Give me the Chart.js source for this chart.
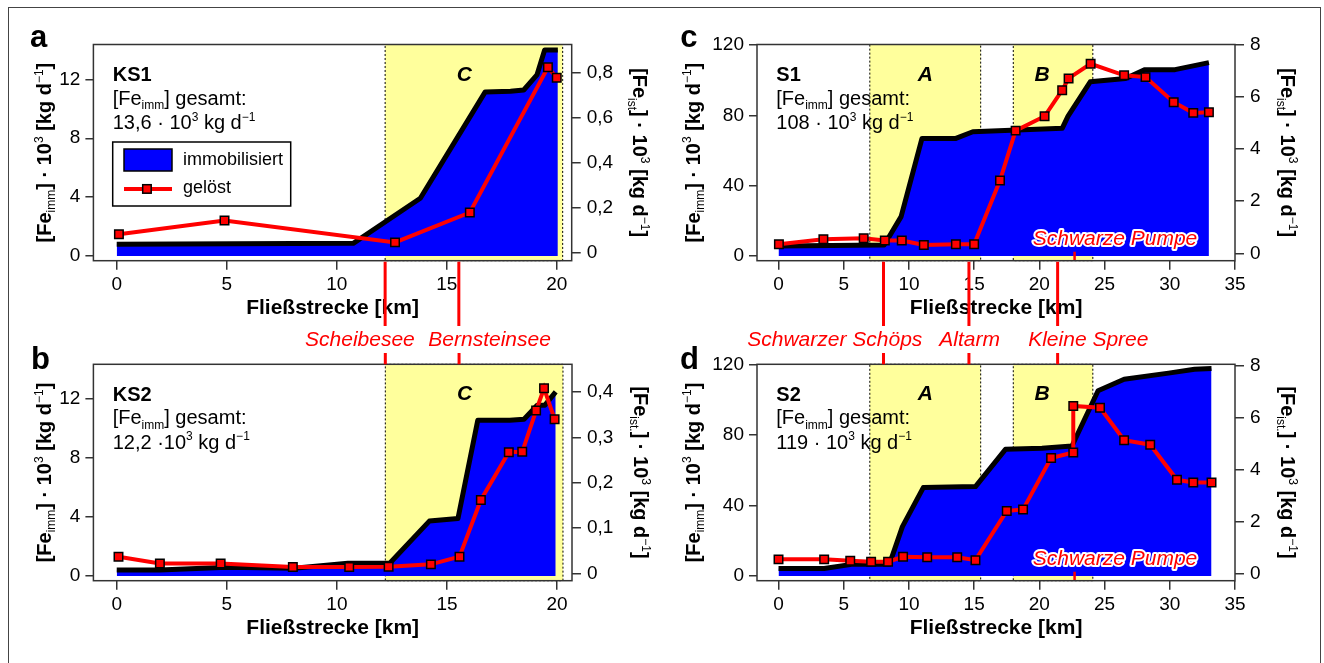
<!DOCTYPE html>
<html lang="de">
<head>
<meta charset="UTF-8">
<title>Eisenfracht</title>
<style>
  body { margin: 0; background: #fff; }
  #wrap { position: relative; width: 1324px; height: 663px; overflow: hidden; }
  #frame { position: absolute; left: 8px; top: 7px; width: 1311px; height: 700px; border: 1px solid #444; }
  canvas { position: absolute; }
</style>
</head>
<body>
<div id="wrap">
  <div id="frame"></div>
  <canvas id="pa" width="662" height="326" style="left:0;top:0"></canvas>
  <canvas id="pb" width="662" height="337" style="left:0;top:326px"></canvas>
  <canvas id="pc" width="662" height="326" style="left:662px;top:0"></canvas>
  <canvas id="pd" width="662" height="337" style="left:662px;top:326px"></canvas>
</div>

<script src="https://cdn.jsdelivr.net/npm/chart.js"></script>

<script>
// ---- data (km, immobilisiert in 10^3 kg/d, geloest in 10^3 kg/d) ----
const ks1ImmKm = [0, 10.75, 13.8, 16.75, 17.9, 18.5, 19.1, 19.45, 20.05];
const ks1Imm   = [0.79, 0.86, 3.92, 11.15, 11.2, 11.28, 12.3, 14.0, 14.0];
const ks1GelKm = [0.1, 4.9, 12.65, 16.05, 19.6, 20.0];
const ks1Gel   = [0.084, 0.145, 0.048, 0.18, 0.822, 0.776];

const ks2ImmKm = [0, 1.96, 5.0, 8.05, 10.5, 12.4, 14.2, 15.5, 16.4, 17.85, 18.5, 19.1, 19.45, 19.94];
const ks2Imm   = [0.41, 0.41, 0.59, 0.52, 0.86, 0.86, 3.72, 3.9, 10.56, 10.56, 10.63, 11.58, 11.58, 12.48];
const ks2GelKm = [0.08, 1.96, 4.72, 8.0, 10.56, 12.35, 14.27, 15.57, 16.54, 17.81, 18.42, 19.05, 19.41, 19.89];
const ks2Gel   = [0.037, 0.022, 0.022, 0.014, 0.014, 0.015, 0.020, 0.037, 0.162, 0.267, 0.268, 0.359, 0.408, 0.340];

const s1ImmKm = [0, 8.1, 9.4, 11.0, 13.6, 14.9, 21.75, 22.2, 23.9, 26.6, 28.1, 30.4, 33.0];
const s1Imm   = [5.7, 6.3, 22.4, 66.9, 66.9, 70.7, 72.6, 79.6, 99.1, 101, 106, 106, 110];
const s1GelKm = [0.03, 3.44, 6.53, 8.15, 9.45, 11.14, 13.6, 15.0, 16.98, 18.18, 20.4, 21.75, 22.24, 23.93, 26.5, 28.14, 30.3, 31.8, 33.0];
const s1Gel   = [0.35, 0.54, 0.58, 0.49, 0.49, 0.32, 0.35, 0.35, 2.79, 4.70, 5.25, 6.25, 6.70, 7.26, 6.82, 6.75, 5.79, 5.38, 5.40];

const s2ImmKm = [0, 3.5, 5.6, 8.5, 9.5, 11.1, 15.1, 17.4, 20.2, 22.5, 24.5, 26.5, 29.9, 31.9, 33.2];
const s2Imm   = [4.3, 4.3, 6.6, 6.6, 28, 50.1, 50.7, 71.8, 72.4, 73.7, 105, 111.5, 115, 117.2, 117.6];
const s2GelKm = [0, 3.5, 5.5, 7.1, 8.4, 9.55, 11.4, 13.7, 15.1, 17.5, 18.75, 20.9, 22.6, 22.6, 24.65, 26.5, 28.5, 30.55, 31.8, 33.2];
const s2Gel   = [0.54, 0.54, 0.49, 0.45, 0.45, 0.64, 0.62, 0.62, 0.51, 2.40, 2.46, 4.44, 4.65, 6.44, 6.37, 5.12, 4.95, 3.60, 3.50, 3.50];

// zones (km) and tributaries / lakes
const ksZoneFrom = [12.2],      ksZoneTo = [20.27],      ksZoneName = ['C'];
const sZoneFrom  = [7.0, 18.0], sZoneTo  = [15.5, 24.1], sZoneName  = ['A', 'B'];
const ksLakeKm = [12.2, 15.55];
const ksLakeNames = ['Scheibesee', 'Bernsteinsee'];
const sLakeKm = [8.05, 14.6, 21.4];
const sLakeNames = ['Schwarzer Schöps', 'Altarm', 'Kleine Spree'];
const pumpeKm = 22.7;

// tick labels
const ksKmTicks = [0, 5, 10, 15, 20];
const sKmTicks = [0, 5, 10, 15, 20, 25, 30, 35];
const ksImmTicks = [0, 4, 8, 12];
const sImmTicks = [0, 40, 80, 120];
const ks1GelTicks = [0, 0.2, 0.4, 0.6, 0.8];
const ks2GelTicks = [0, 0.1, 0.2, 0.3, 0.4];
const sGelTicks = [0, 2, 4, 6, 8];

const FAM = "'Liberation Sans', Arial, sans-serif";
const RED = '#FF0000', BLUE = '#0000FF', YELLOW = '#FFFF9C';

function fnt(size, weight, style) {
  return (style || 'normal') + ' ' + (weight || 'normal') + ' ' + size + 'px ' + FAM;
}

// text with sub / superscripts: parts = [[text, ''|'sub'|'sup'], ...]
function richWidth(ctx, parts, size, weight, style) {
  let w = 0;
  for (const [t, k] of parts) {
    ctx.font = k ? fnt(size * 0.6, 'normal', style) : fnt(size, weight, style);
    w += ctx.measureText(t).width;
  }
  return w;
}
function drawRich(ctx, parts, x, y, size, weight, style, align) {
  let cx = x;
  if (align === 'center') cx = x - richWidth(ctx, parts, size, weight, style) / 2;
  ctx.textAlign = 'left';
  ctx.textBaseline = 'alphabetic';
  for (const [t, k] of parts) {
    ctx.font = k ? fnt(size * 0.6, 'normal', style) : fnt(size, weight, style);
    const dy = k === 'sub' ? size * 0.22 : (k === 'sup' ? -size * 0.42 : 0);
    ctx.fillText(t, cx, y + dy);
    cx += ctx.measureText(t).width;
  }
}

const immTitle = [['[Fe', ''], ['imm', 'sub'], ['] · 10', ''], ['3', 'sup'], [' [kg d', ''], ['−1', 'sup'], [']', '']];
const istTitle = [['[Fe', ''], ['ist', 'sub'], ['] · 10', ''], ['3', 'sup'], [' [kg d', ''], ['−1', 'sup'], [']', '']];
const istTitle2 = [['[Fe', ''], ['ist.', 'sub'], ['] · 10', ''], ['3', 'sup'], [' [kg d', ''], ['−1', 'sup'], [']', '']];
const gesamt = [['[Fe', ''], ['imm', 'sub'], ['] gesamt:', '']];

function makeDecor(p) {
  return {
    id: 'decor',
    beforeDatasetsDraw(chart) {
      const { ctx, chartArea: a } = chart;
      const x = chart.scales.x;
      ctx.save();
      p.zoneFrom.forEach((z0, i) => {
        const x0 = x.getPixelForValue(z0), x1 = x.getPixelForValue(p.zoneTo[i]);
        ctx.fillStyle = YELLOW;
        ctx.fillRect(x0, a.top, x1 - x0, a.bottom - a.top);
        ctx.setLineDash([2, 2]);
        ctx.strokeStyle = '#000';
        ctx.lineWidth = 1;
        ctx.strokeRect(x0, a.top, x1 - x0, a.bottom - a.top);
        ctx.setLineDash([]);
      });
      ctx.restore();
    },
    afterDatasetsDraw(chart) {
      const { ctx, chartArea: a } = chart;
      const x = chart.scales.x;
      ctx.save();
      ctx.fillStyle = '#000';
      // zone letters
      p.zoneName.forEach((n, i) => {
        ctx.font = fnt(21, 'bold', 'italic');
        ctx.textAlign = 'center';
        ctx.textBaseline = 'alphabetic';
        ctx.fillText(n, x.getPixelForValue(p.zoneLabelKm[i]), a.top + 36);
      });
      // station text
      ctx.font = fnt(20, 'bold');
      ctx.textAlign = 'left';
      ctx.fillText(p.name, a.left + 19.3, a.top + 36.5);
      drawRich(ctx, gesamt, a.left + 19.3, a.top + 60, 20, 'normal');
      drawRich(ctx, p.total, a.left + 19.3, a.top + 84.5, 20, 'normal');

      if (p.legend) {
        const lx = a.left + 19.3, ly = a.top + 97.5;
        ctx.fillStyle = '#fff';
        ctx.fillRect(lx, ly, 178, 64);
        ctx.strokeStyle = '#000';
        ctx.lineWidth = 1.5;
        ctx.strokeRect(lx, ly, 178, 64);
        ctx.fillStyle = BLUE;
        ctx.fillRect(lx + 11.3, ly + 7, 48, 22);
        ctx.strokeRect(lx + 11.3, ly + 7, 48, 22);
        ctx.strokeStyle = RED;
        ctx.lineWidth = 4;
        ctx.beginPath();
        ctx.moveTo(lx + 11.3, ly + 47);
        ctx.lineTo(lx + 59.3, ly + 47);
        ctx.stroke();
        ctx.fillStyle = RED;
        ctx.fillRect(lx + 30, ly + 42.7, 8.5, 8.5);
        ctx.strokeStyle = '#000';
        ctx.lineWidth = 1.5;
        ctx.strokeRect(lx + 30, ly + 42.7, 8.5, 8.5);
        ctx.fillStyle = '#000';
        ctx.font = fnt(18);
        ctx.textBaseline = 'middle';
        ctx.fillText(chart.data.datasets[1].label, lx + 70.3, ly + 18);
        ctx.fillText(chart.data.datasets[0].label, lx + 70.3, ly + 46);
      }

      if (p.pumpe) {
        ctx.strokeStyle = RED;
        ctx.lineWidth = 2.5;
        const px = x.getPixelForValue(pumpeKm);
        ctx.beginPath();
        ctx.moveTo(px, a.bottom - 9);
        ctx.lineTo(px, a.bottom);
        ctx.stroke();
        ctx.font = fnt(21, 'normal', 'italic');
        ctx.textAlign = 'center';
        ctx.textBaseline = 'alphabetic';
        ctx.lineJoin = 'round';
        ctx.lineWidth = 4;
        ctx.strokeStyle = '#fff';
        const cx = x.getPixelForValue(25.8), cy = a.bottom - 15.7;
        ctx.strokeText('Schwarze Pumpe', cx, cy);
        ctx.fillStyle = RED;
        ctx.fillText('Schwarze Pumpe', cx, cy);
      }
      ctx.restore();
    },
    afterDraw(chart) {
      const { ctx, chartArea: a } = chart;
      const x = chart.scales.x;
      const H = chart.height;
      ctx.save();
      // plot box
      ctx.strokeStyle = '#333';
      ctx.lineWidth = 1.5;
      ctx.strokeRect(a.left, a.top, a.right - a.left, a.bottom - a.top);

      ctx.fillStyle = '#000';
      // x title
      ctx.font = fnt(21, 'bold');
      ctx.textAlign = 'center';
      ctx.textBaseline = 'alphabetic';
      ctx.fillText('Fließstrecke [km]', (a.left + a.right) / 2, a.bottom + 53.3);
      // y titles
      const cy = (a.top + a.bottom) / 2;
      ctx.save();
      ctx.translate(a.left - p.leftOff, cy);
      ctx.rotate(-Math.PI / 2);
      drawRich(ctx, immTitle, 0, 7, 20, 'bold', 'normal', 'center');
      ctx.restore();
      ctx.save();
      ctx.translate(a.right + p.rightOff, cy);
      ctx.rotate(Math.PI / 2);
      drawRich(ctx, p.rightTitle, 0, 7, 20, 'bold', 'normal', 'center');
      ctx.restore();
      // panel letter
      ctx.font = fnt(31, 'bold');
      ctx.textAlign = 'left';
      ctx.fillText(p.letter, p.letterX, p.letterY);

      // red markers for lakes / tributaries
      ctx.strokeStyle = RED;
      ctx.lineWidth = 3;
      if (p.linesDown) {
        p.linesDown.forEach(km => {
          const px = x.getPixelForValue(km);
          ctx.beginPath();
          ctx.moveTo(px, a.bottom + 1);
          ctx.lineTo(px, H);
          ctx.stroke();
        });
      }
      if (p.lakesUp) {
        ctx.font = fnt(21, 'normal', 'italic');
        ctx.fillStyle = RED;
        ctx.textAlign = 'center';
        p.lakesUp.forEach((km, i) => {
          const px = x.getPixelForValue(km);
          ctx.beginPath();
          ctx.moveTo(px, 27);
          ctx.lineTo(px, a.top);
          ctx.stroke();
          ctx.fillText(p.lakeNames[i], px + p.lakeShift[i], 20);
        });
      }
      ctx.restore();
    }
  };
}

function commaFmt(v) {
  return v === 0 ? '0' : String(+v.toFixed(2)).replace('.', ',');
}

function panel(id, p) {
  const canvas = document.getElementById(id);
  const W = canvas.width, H = canvas.height;
  const box = p.box;
  const tickFont = { family: FAM, size: 19 };
  const grid = len => ({ drawOnChartArea: false, drawTicks: true, tickLength: len, color: '#333', lineWidth: 1.5 });
  return new Chart(canvas, {
    type: 'line',
    data: {
      datasets: [
        {
          label: 'gelöst',
          data: p.gelKm.map((k, i) => ({ x: k, y: p.gel[i] })),
          yAxisID: 'y2',
          borderColor: RED,
          borderWidth: 4,
          pointStyle: 'rect',
          pointRadius: 6,
          pointBackgroundColor: RED,
          pointBorderColor: '#000',
          pointBorderWidth: 1.5,
          fill: false,
          tension: 0
        },
        {
          label: 'immobilisiert',
          data: p.immKm.map((k, i) => ({ x: k, y: p.imm[i] })),
          yAxisID: 'y',
          borderColor: '#000',
          borderWidth: 5,
          borderJoinStyle: 'round',
          backgroundColor: BLUE,
          pointRadius: 0,
          fill: 'origin',
          tension: 0
        }
      ]
    },
    options: {
      responsive: false,
      animation: false,
      events: [],
      layout: { padding: { top: box.t, left: 0, right: 0, bottom: 0 } },
      plugins: { legend: { display: false }, tooltip: { enabled: false } },
      scales: {
        x: {
          type: 'linear', min: p.xMin, max: p.xMax,
          afterFit: s => { s.height = H - box.b; },
          afterBuildTicks: s => { s.ticks = p.xTicks.map(v => ({ value: v })); },
          grid: grid(9),
          border: { display: false },
          ticks: { font: tickFont, color: '#000', padding: 4, maxRotation: 0, autoSkip: false }
        },
        y: {
          type: 'linear', position: 'left', min: p.yMin, max: p.yMax,
          afterFit: s => { s.width = box.l; },
          afterBuildTicks: s => { s.ticks = p.yTicks.map(v => ({ value: v })); },
          grid: grid(8),
          border: { display: false },
          ticks: { font: tickFont, color: '#000', padding: 5 }
        },
        y2: {
          type: 'linear', position: 'right', min: p.y2Min, max: p.y2Max,
          afterFit: s => { s.width = W - box.r; },
          afterBuildTicks: s => { s.ticks = p.y2Ticks.map(v => ({ value: v })); },
          grid: grid(9),
          border: { display: false },
          ticks: { font: tickFont, color: '#000', padding: 6, callback: v => commaFmt(v) }
        }
      }
    },
    plugins: [makeDecor(p)]
  });
}

panel('pa', {
  letter: 'a', letterX: 30, letterY: 47,
  name: 'KS1', total: [['13,6 · 10', ''], ['3', 'sup'], [' kg d', ''], ['−1', 'sup']],
  box: { l: 93.4, r: 571.7, t: 44.5, b: 260.7 },
  xMin: -1.06, xMax: 20.68, yMin: -0.32, yMax: 14.37, y2Min: -0.033, y2Max: 0.923,
  xTicks: ksKmTicks, yTicks: ksImmTicks, y2Ticks: ks1GelTicks,
  immKm: ks1ImmKm, imm: ks1Imm, gelKm: ks1GelKm, gel: ks1Gel,
  zoneFrom: ksZoneFrom, zoneTo: ksZoneTo, zoneName: ksZoneName, zoneLabelKm: [15.8],
  leftOff: 49.5, rightOff: 68, rightTitle: istTitle,
  legend: true, linesDown: ksLakeKm
});

panel('pb', {
  letter: 'b', letterX: 31, letterY: 43,
  name: 'KS2', total: [['12,2 ·10', ''], ['3', 'sup'], [' kg d', ''], ['−1', 'sup']],
  box: { l: 93.4, r: 572, t: 38.3, b: 254.7 },
  xMin: -1.06, xMax: 20.68, yMin: -0.32, yMax: 14.35, y2Min: -0.016, y2Max: 0.461,
  xTicks: ksKmTicks, yTicks: ksImmTicks, y2Ticks: ks2GelTicks,
  immKm: ks2ImmKm, imm: ks2Imm, gelKm: ks2GelKm, gel: ks2Gel,
  zoneFrom: ksZoneFrom, zoneTo: ksZoneTo, zoneName: ksZoneName, zoneLabelKm: [15.8],
  leftOff: 49.5, rightOff: 69, rightTitle: istTitle2,
  lakesUp: ksLakeKm, lakeNames: ksLakeNames, lakeShift: [-25.4, 30.5]
});

panel('pc', {
  letter: 'c', letterX: 18.3, letterY: 47,
  name: 'S1', total: [['108 · 10', ''], ['3', 'sup'], [' kg d', ''], ['−1', 'sup']],
  box: { l: 95, r: 573, t: 44.5, b: 260.7 },
  xMin: -1.65, xMax: 35, yMin: -2.67, yMax: 120.3, y2Min: -0.284, y2Max: 8.0,
  xTicks: sKmTicks, yTicks: sImmTicks, y2Ticks: sGelTicks,
  immKm: s1ImmKm, imm: s1Imm, gelKm: s1GelKm, gel: s1Gel,
  zoneFrom: sZoneFrom, zoneTo: sZoneTo, zoneName: sZoneName, zoneLabelKm: [11.25, 20.2],
  leftOff: 64.5, rightOff: 53, rightTitle: istTitle,
  pumpe: true, linesDown: sLakeKm
});

panel('pd', {
  letter: 'd', letterX: 18, letterY: 43,
  name: 'S2', total: [['119 · 10', ''], ['3', 'sup'], [' kg d', ''], ['−1', 'sup']],
  box: { l: 95, r: 573, t: 38.3, b: 254.7 },
  xMin: -1.65, xMax: 35, yMin: -2.66, yMax: 120, y2Min: -0.28, y2Max: 8.04,
  xTicks: sKmTicks, yTicks: sImmTicks, y2Ticks: sGelTicks,
  immKm: s2ImmKm, imm: s2Imm, gelKm: s2GelKm, gel: s2Gel,
  zoneFrom: sZoneFrom, zoneTo: sZoneTo, zoneName: sZoneName, zoneLabelKm: [11.25, 20.2],
  leftOff: 64.5, rightOff: 53, rightTitle: istTitle2,
  pumpe: true, lakesUp: sLakeKm, lakeNames: sLakeNames, lakeShift: [-48.7, 0.7, 30.7]
});
</script>
</body>
</html>
